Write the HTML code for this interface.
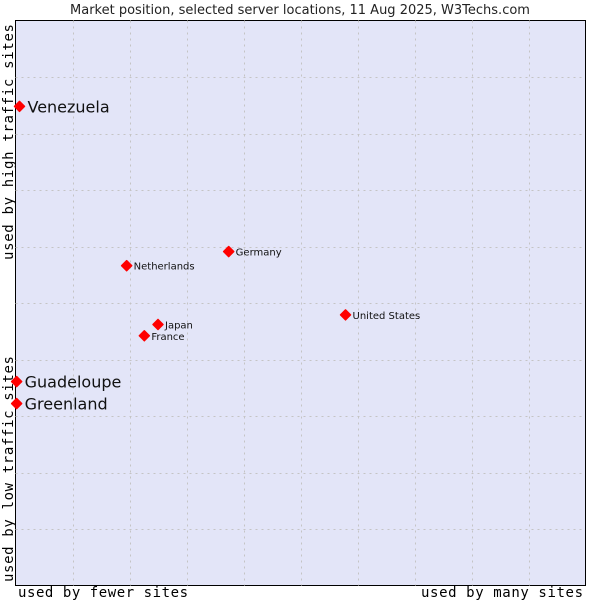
<!DOCTYPE html>
<html><head><meta charset="utf-8"><style>
body{margin:0;background:#fff;width:600px;height:600px;overflow:hidden}
svg{display:block;font-family:"DejaVu Sans","Liberation Sans",sans-serif}
.mono{font-family:"DejaVu Sans Mono","Liberation Mono",monospace}
</style></head><body>
<svg id="c" width="600" height="600">
<text x="300" y="14" text-anchor="middle" font-size="13" fill="#222">Market position, selected server locations, 11 Aug 2025, W3Techs.com</text>
<rect x="15.5" y="20.5" width="570" height="565" fill="#e3e5f8" stroke="#000"/>
<g id="grid"></g>
<text class="mono" x="18" y="597" font-size="14" textLength="170" fill="#000">used by fewer sites</text>
<text class="mono" x="421" y="597" font-size="14" textLength="162" fill="#000">used by many sites</text>
<text class="mono" transform="translate(13,260) rotate(-90)" font-size="14" textLength="236" fill="#000">used by high traffic sites</text>
<text class="mono" transform="translate(13,582) rotate(-90)" font-size="14" textLength="226" fill="#000">used by low traffic sites</text>
<g id="pts"></g>
</svg>
<script>
const countries=["Venezuela","Guadeloupe","Greenland","Netherlands","Germany","United States","Japan","France"];
const xVals=[0.7,0.2,0.2,19.5,37.4,57.9,25.0,22.6];
const yVals=[84.8,36.1,32.2,56.6,59.1,47.9,46.2,44.2];
const bigLabel=[true,true,true,false,false,false,false,false];
const L=15.5,T=20.5,W=570,H=565;
const sx=v=>L+v/100*W, sy=v=>T+H-v/100*H;
const NS="http://www.w3.org/2000/svg";
const g=document.getElementById('grid');
for(let i=1;i<10;i++){
 let a=document.createElementNS(NS,'line');
 a.setAttribute('x1',Math.round(L+i*W/10)+.5);a.setAttribute('x2',Math.round(L+i*W/10)+.5);
 a.setAttribute('y1',T);a.setAttribute('y2',T+H);
 a.setAttribute('stroke','#c4c4c4');a.setAttribute('stroke-dasharray','2,4');
 
 
 g.appendChild(a);
 let b=document.createElementNS(NS,'line');
 b.setAttribute('y1',Math.round(T+i*H/10)+.5);b.setAttribute('y2',Math.round(T+i*H/10)+.5);
 b.setAttribute('x1',L);b.setAttribute('x2',L+W);
 b.setAttribute('stroke','#c4c4c4');b.setAttribute('stroke-dasharray','2,4');
 
 
 g.appendChild(b);
}
const p=document.getElementById('pts');
countries.forEach((c,i)=>{
 const x=sx(xVals[i]),y=sy(yVals[i]);
 const d=document.createElementNS(NS,'path');
 d.setAttribute('d',`M${x} ${y-5}L${x+5} ${y}L${x} ${y+5}L${x-5} ${y}Z`);
 d.setAttribute('fill','#f00');d.setAttribute('stroke','#f00');d.setAttribute('stroke-linejoin','round');d.setAttribute('stroke-width','1.5');
 
 
 p.appendChild(d);
 const t=document.createElementNS(NS,'text');
 t.setAttribute('x',x+(bigLabel[i]?8:7));t.setAttribute('y',y+(bigLabel[i]?6:4));
 t.setAttribute('font-size',bigLabel[i]?'16':'10');t.setAttribute('fill','#111');
 t.textContent=c;
 
 
 p.appendChild(t);
});
</script>
</body></html>
